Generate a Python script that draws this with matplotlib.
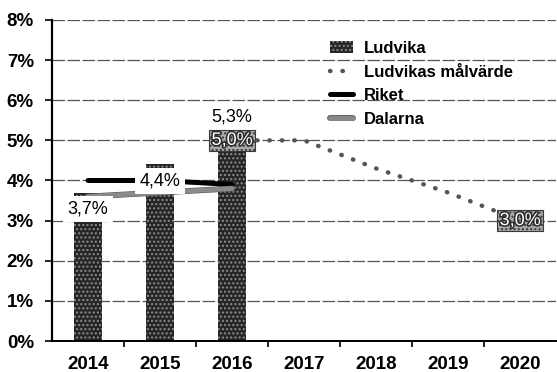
import numpy as np
import matplotlib
matplotlib.use("Agg")
import matplotlib.pyplot as plt
import matplotlib.patheffects as pe

# arbetslöshet, procent
years = ["2014", "2015", "2016", "2017", "2018", "2019", "2020"]
ludvika = [3.7, 4.4, 5.3]
riket = [4.0, 4.0, 3.9]
dalarna = [3.6, 3.7, 3.8]
malvarde_years = ["2016", "2017", "2018", "2019", "2020"]
malvarde = [5.0, 5.0, 4.3, 3.7, 3.0]
bar_labels = ["3,7%", "4,4%", "5,3%"]
target_labels = {"2016": "5,0%", "2020": "3,0%"}

plt.rcParams['font.family'] = ['Liberation Sans', 'DejaVu Sans']

x = np.arange(len(years))
xb = x[:len(ludvika)]
xm = np.array([years.index(y) for y in malvarde_years])

fig = plt.figure(figsize=(5.57, 3.72), dpi=100)
ax = fig.add_axes([0.0934, 0.0833, 0.905, 0.863])

# stödlinjer
for v in range(1, 9):
    ax.axhline(v, color='#555555', lw=0.9, ls=(0, (10, 2)), zorder=1)

h_bar = ax.bar(xb, ludvika, width=0.38, color='#262626', edgecolor='#8c8c8c',
               linewidth=0, hatch='....', zorder=2, label='Ludvika')

h_mal, = ax.plot(xm, malvarde, color='#555555', lw=3.2, ls=(0, (0.1, 2.7)),
                 dash_capstyle='round', zorder=3, label='Ludvikas målvärde')
h_rik, = ax.plot(xb, riket, color='black', lw=3.6, solid_capstyle='round', zorder=3,
                 label='Riket')
h_dal, = ax.plot(xb, dalarna, color='#8a8a8a', lw=3.4, solid_capstyle='round', zorder=3,
                 label='Dalarna',
                 path_effects=[pe.Stroke(linewidth=4.2, foreground='#5a5a5a'), pe.Normal()])

# värdeetiketter på staplarna
offsets = [-0.40, -0.41, 0.29]
for xi, v, lab, off in zip(xb, ludvika, bar_labels, offsets):
    ax.text(xi, v + off, lab, ha='center', va='center', fontsize=13,
            zorder=4,
            bbox=dict(facecolor='white', edgecolor='none', pad=3.2))

for yr, lab in target_labels.items():
    i = malvarde_years.index(yr)
    ax.text(xm[i], malvarde[i], lab, ha='center', va='center', fontsize=13,
            color='white', zorder=5,
            path_effects=[pe.withStroke(linewidth=2.2, foreground='#2a2a2a')],
            bbox=dict(boxstyle='square,pad=0.12', facecolor='#a8a8a8',
                      edgecolor='#3a3a3a', linewidth=0.8, hatch='....'))

ax.set_xlim(-0.5, len(years) - 0.5)
ax.set_ylim(0, 8)
ax.set_yticks(range(0, 9))
ax.set_yticklabels([f"{v}%" for v in range(0, 9)], fontweight='bold', fontsize=13.5)
ax.set_xticks(x)
ax.set_xticklabels(years, fontweight='bold', fontsize=13.5)
ax.set_xticks(np.arange(0.5, len(years) - 1, 1), minor=True)
ax.tick_params(axis='x', which='major', length=0, pad=11)
ax.tick_params(axis='x', which='minor', length=4, width=1.2, direction='out')
ax.tick_params(axis='y', length=5, width=1.2, direction='out', pad=8)

for s in ['top', 'right']:
    ax.spines[s].set_visible(False)
ax.spines['left'].set_linewidth(1.6)
ax.spines['bottom'].set_linewidth(1.4)

ax.legend(handles=[h_bar, h_mal, h_rik, h_dal],
          loc='upper left', bbox_to_anchor=(0.593, 0.89), bbox_transform=fig.transFigure,
          frameon=False, prop={'weight': 'bold', 'size': 12},
          handlelength=1.35, handletextpad=0.65, labelspacing=0.52,
          borderpad=0, borderaxespad=0)

fig.savefig("out.png", dpi=100)
